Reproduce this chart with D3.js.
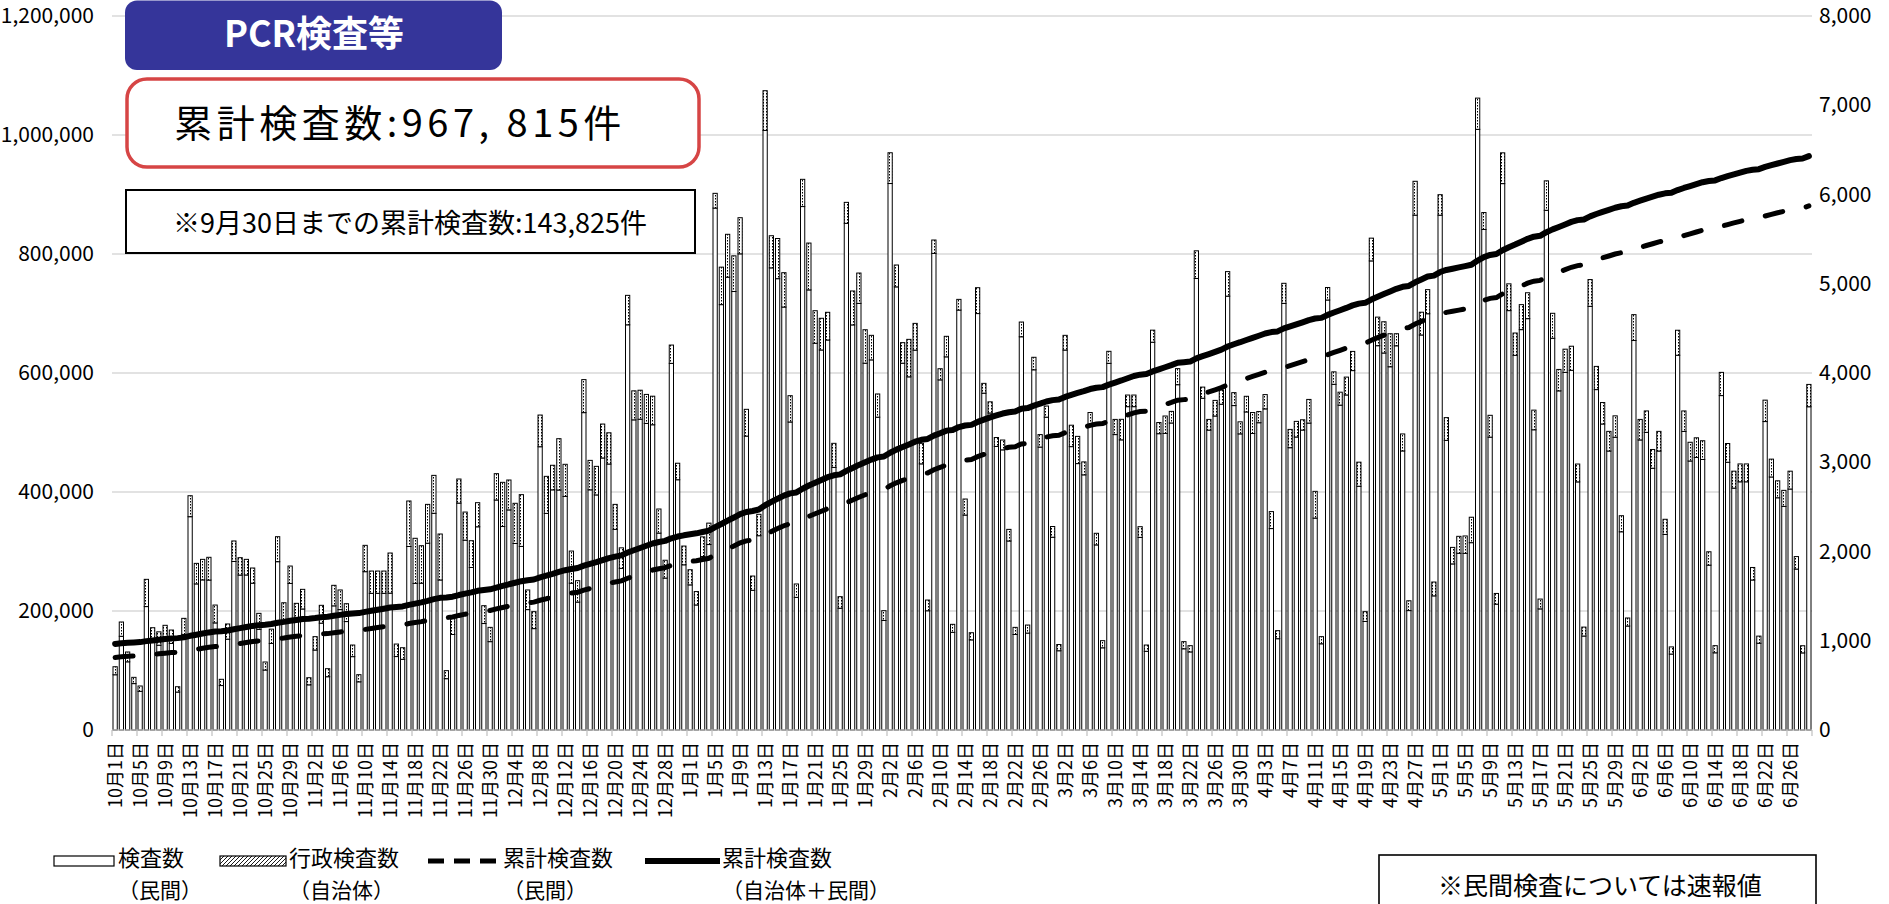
<!DOCTYPE html>
<html><head><meta charset="utf-8">
<script src="https://cdn.jsdelivr.net/npm/d3@7"></script>
<style>
html,body{margin:0;padding:0;background:#fff;}
svg{display:block;}
text{font-family:'Noto Sans CJK JP','Noto Sans',sans-serif;fill:#000;}
</style></head>
<body>
<svg id="chart" width="1889" height="904"></svg>
<script>
// ---- data ----
// daily total tests per day (bar height, right axis), 2020-10-01 .. 2021-06-29
const allTests = [
709,1210,874,590,493,1688,1146,1100,1173,1120,
485,1251,2625,1867,1912,1935,1400,568,1188,2118,
1931,1912,1815,1307,762,1130,2166,1426,1837,1419,
1576,586,1046,1397,687,1621,1569,1415,952,620,
2069,1781,1781,1781,1983,963,922,2566,2148,2065,
2528,2853,2196,665,1250,2812,2442,2121,2547,1393,
1150,2872,2775,2801,2540,2637,1569,1326,3529,2842,
2966,3264,2977,2005,1673,3926,3021,2954,3428,3330,
2528,2041,4870,3800,3807,3760,3740,2476,1902,4313,
2989,2061,1796,1551,2164,2318,6013,5186,5554,5313,
5740,3593,1725,2417,7163,5538,5507,5124,3746,1636,
6170,5456,4698,4613,4680,3212,1494,5912,4919,5120,
4485,4422,3765,1337,6468,5210,4340,4377,4556,3212,
1456,5490,4048,4411,1184,4825,2588,1090,4956,3884,
3677,3277,3249,2248,1150,4571,1176,4176,3310,3630,
2280,958,4422,3415,3290,3004,3557,2204,1001,4243,
3480,3481,3753,3753,2278,952,4480,3445,3518,3570,
4049,990,945,5369,3842,3480,3693,3810,5136,3780,
3453,3739,3557,3568,3758,2447,1113,5005,3368,3458,
3476,3704,2674,1046,4958,4013,3785,3954,4242,3001,
1326,5511,4626,4574,4440,4440,3317,1448,6148,4681,
4934,1658,5998,3500,2046,2170,2174,2384,7080,5798,
3526,1530,6467,4999,4448,4766,4899,3584,1467,6153,
4669,4040,4267,4300,2980,1153,5047,4074,3669,3346,
3520,2401,1255,4654,3480,3575,3143,3346,2361,931,
4479,3575,3224,3274,3241,1997,945,4007,3210,2900,
2981,2981,1821,1052,3696,3035,2792,2685,2900,1943,
944,3872];
// 行政検査数（自治体） — hatched top part of each bar
const govTests = [
90,160,110,70,60,305,160,150,170,150,
60,180,235,230,230,255,200,70,170,230,
195,175,170,180,90,160,280,200,195,190,
220,80,150,200,90,230,220,200,130,80,
295,250,250,250,450,140,130,510,505,420,
435,425,515,90,180,270,315,300,270,200,
160,295,495,335,450,580,220,190,355,415,
275,575,360,360,240,370,330,320,380,350,
280,230,330,325,325,325,320,270,200,205,
185,210,170,150,220,240,165,420,480,400,
405,300,160,240,445,360,450,385,295,150,
305,525,365,355,310,270,130,235,380,340,
375,275,260,110,345,245,230,420,300,230,
120,150,125,230,90,120,180,80,290,110,
125,100,110,130,80,165,90,140,140,125,
120,70,165,240,305,145,155,130,80,135,
170,230,130,130,120,70,135,125,195,130,
180,80,70,310,125,120,175,160,275,145,
135,175,235,125,160,190,90,225,205,175,
115,265,300,80,140,140,145,200,215,270,
110,255,320,350,370,135,190,110,380,255,
270,155,230,255,185,190,195,285,350,190,
245,120,345,300,250,280,290,220,110,330,
280,240,260,270,200,100,300,260,240,220,
240,180,90,290,230,240,210,220,170,80,
280,230,210,220,210,150,80,260,210,190,
200,200,140,80,240,200,190,180,200,140,
80,250];
const baseTotal = 143825;   // 9月30日までの累計
const basePrivate = 121400; // 民間累計の起点（図から読取）
const tickLabels = [
"10月1日","10月5日","10月9日","10月13日","10月17日","10月21日","10月25日","10月29日",
"11月2日","11月6日","11月10日","11月14日","11月18日","11月22日","11月26日","11月30日",
"12月4日","12月8日","12月12日","12月16日","12月20日","12月24日","12月28日",
"1月1日","1月5日","1月9日","1月13日","1月17日","1月21日","1月25日","1月29日",
"2月2日","2月6日","2月10日","2月14日","2月18日","2月22日","2月26日",
"3月2日","3月6日","3月10日","3月14日","3月18日","3月22日","3月26日","3月30日",
"4月3日","4月7日","4月11日","4月15日","4月19日","4月23日","4月27日",
"5月1日","5月5日","5月9日","5月13日","5月17日","5月21日","5月25日","5月29日",
"6月2日","6月6日","6月10日","6月14日","6月18日","6月22日","6月26日"];
const leftTicks = [0,200000,400000,600000,800000,1000000,1200000];
const rightTicks = [0,1000,2000,3000,4000,5000,6000,7000,8000];

// ---- build ----
const days = d3.timeDay.range(new Date(2020,9,1), new Date(2021,5,30));
const categories = days.map(d => (d.getMonth()+1) + "月" + d.getDate() + "日");
const table = categories.map((c,i) => ({i, cat:c, priv: allTests[i]-govTests[i], gov: govTests[i]}));

const L = 112, R = 1812, T = 16, B = 730;
const svg = d3.select("#chart");
const defs = svg.append("defs");
const pat = defs.append("pattern").attr("id","hatch").attr("patternUnits","userSpaceOnUse")
  .attr("width",4).attr("height",4);
pat.append("rect").attr("width",4).attr("height",4).attr("fill","#fff");
pat.append("path").attr("d","M-1,1 l2,-2 M0,4 l4,-4 M3,5 l2,-2").attr("stroke","#000").attr("stroke-width",0.9);
const pat2 = defs.append("pattern").attr("id","dots").attr("patternUnits","userSpaceOnUse")
  .attr("width",3).attr("height",3);
pat2.append("rect").attr("width",3).attr("height",3).attr("fill","#fff");
pat2.append("rect").attr("x",1).attr("y",0).attr("width",1).attr("height",1.5).attr("fill","#000");

const x = d3.scaleBand().domain(d3.range(categories.length)).range([L,R]).paddingInner(0.32).paddingOuter(0.16);
const yL = d3.scaleLinear().domain([0,1200000]).range([B,T]);
const yR = d3.scaleLinear().domain([0,8000]).range([B,T]);

// gridlines
svg.append("g").selectAll("line").data(leftTicks).join("line")
  .attr("x1",L).attr("x2",R).attr("y1",d=>yL(d)).attr("y2",d=>yL(d))
  .attr("stroke","#d9d9d9").attr("stroke-width",1.3);

// x tick marks at category boundaries every 4 days
const tickIdx = d3.range(0, categories.length+1, 4);
svg.append("g").selectAll("line").data(tickIdx).join("line")
  .attr("x1",d=>L+d*x.step()).attr("x2",d=>L+d*x.step())
  .attr("y1",B).attr("y2",B+6).attr("stroke","#bfbfbf").attr("stroke-width",1.2);

// stacked bars
const stacked = d3.stack().keys(["priv","gov"])(table);
const fills = {priv:"#fff", gov:"url(#dots)"};
svg.append("g").selectAll("g").data(stacked).join("g")
  .attr("fill", s => fills[s.key]).attr("stroke","#000").attr("stroke-width",1)
  .selectAll("rect").data(s => s).join("rect")
  .attr("x", d => x(d.data.i)).attr("width", x.bandwidth())
  .attr("y", d => yR(d[1])).attr("height", d => Math.max(0, yR(d[0]) - yR(d[1])));

// cumulative lines
const cumTotal = Array.from(d3.cumsum(allTests), v => v + baseTotal);
const cumPrivate = Array.from(d3.cumsum(table, d => d.priv), v => v + basePrivate);
const line = d3.line().x((d,i) => x(i) + x.bandwidth()/2).y(d => yL(d));
svg.append("path").attr("d", line(cumPrivate)).attr("fill","none").attr("stroke","#000")
  .attr("stroke-width",5).attr("stroke-dasharray","18,24").attr("stroke-linecap","round");
svg.append("path").attr("d", line(cumTotal)).attr("fill","none").attr("stroke","#000")
  .attr("stroke-width",6).attr("stroke-linejoin","round").attr("stroke-linecap","round");

// axis line
svg.append("line").attr("x1",L).attr("x2",R).attr("y1",B).attr("y2",B).attr("stroke","#d9d9d9").attr("stroke-width",1);

// left axis
const gl = svg.append("g").attr("transform",`translate(${L},0)`)
  .call(d3.axisLeft(yL).tickValues(leftTicks).tickFormat(d3.format(",")).tickSize(0).tickPadding(18));
gl.select(".domain").remove();
gl.selectAll("text").style("font-size","21px").style("font-family","'Noto Sans CJK JP',sans-serif").attr("fill","#000");
// right axis
const gr = svg.append("g").attr("transform",`translate(${R},0)`)
  .call(d3.axisRight(yR).tickValues(rightTicks).tickFormat(d3.format(",")).tickSize(0).tickPadding(7));
gr.select(".domain").remove();
gr.selectAll("text").style("font-size","21px").style("font-family","'Noto Sans CJK JP',sans-serif").attr("fill","#000");
// bottom axis labels
const labelIdx = d3.range(0, categories.length, 4);
const gb = svg.append("g").attr("transform",`translate(0,${B})`)
  .call(d3.axisBottom(x).tickValues(labelIdx).tickFormat((d,k) => tickLabels[k]).tickSize(0));
gb.select(".domain").remove();
gb.selectAll("text").attr("transform","rotate(-90)").attr("text-anchor","end")
  .attr("x",-12).attr("y",0).attr("dy","0.36em")
  .style("font-size","18px").style("font-family","'Noto Sans CJK JP',sans-serif").attr("fill","#000");

// ---- top-left boxes ----
svg.append("rect").attr("x",125).attr("y",0.5).attr("width",377).attr("height",69.5).attr("rx",12).attr("fill","#35359a");
svg.append("text").attr("x",314).attr("y",47).attr("text-anchor","middle")
  .style("font-size","36px").style("font-weight","bold").style("fill","#fff").text("PCR検査等");

svg.append("rect").attr("x",127).attr("y",79).attr("width",572).attr("height",88).attr("rx",20)
  .attr("fill","#fff").attr("stroke","#d64545").attr("stroke-width",3.5);
svg.append("text").attr("x",400).attr("y",137).attr("text-anchor","middle")
  .style("font-size","38px").style("letter-spacing","4.5px").text("累計検査数:967, 815件");

svg.append("rect").attr("x",126).attr("y",190).attr("width",569).attr("height",63)
  .attr("fill","#fff").attr("stroke","#000").attr("stroke-width",2);
svg.append("text").attr("x",410).attr("y",233).attr("text-anchor","middle")
  .style("font-size","27px").text("※9月30日までの累計検査数:143,825件");

// ---- legend ----
const lg = svg.append("g");
lg.append("rect").attr("x",54).attr("y",856).attr("width",60).attr("height",10).attr("fill","#fff").attr("stroke","#000").attr("stroke-width",1.2);
lg.append("rect").attr("x",220).attr("y",856).attr("width",66).attr("height",10).attr("fill","url(#hatch)").attr("stroke","#000").attr("stroke-width",1.2);
lg.append("line").attr("x1",428).attr("x2",500).attr("y1",861).attr("y2",861).attr("stroke","#000").attr("stroke-width",5).attr("stroke-dasharray","16,10");
lg.append("line").attr("x1",645).attr("x2",720).attr("y1",861).attr("y2",861).attr("stroke","#000").attr("stroke-width",6);
const legendText = [
  {x:118, a:"検査数", b:"（民間）"},
  {x:289, a:"行政検査数", b:"（自治体）"},
  {x:503, a:"累計検査数", b:"（民間）"},
  {x:722, a:"累計検査数", b:"（自治体＋民間）"}];
legendText.forEach(t => {
  lg.append("text").attr("x",t.x).attr("y",866).style("font-size","22px").text(t.a);
  lg.append("text").attr("x",t.x).attr("y",898).style("font-size","21px").text(t.b);
});

// bottom-right note
svg.append("rect").attr("x",1379).attr("y",855).attr("width",437).attr("height",60)
  .attr("fill","#fff").attr("stroke","#000").attr("stroke-width",1.6);
svg.append("text").attr("x",1600).attr("y",895).attr("text-anchor","middle")
  .style("font-size","25px").text("※民間検査については速報値");
</script>
</body></html>
